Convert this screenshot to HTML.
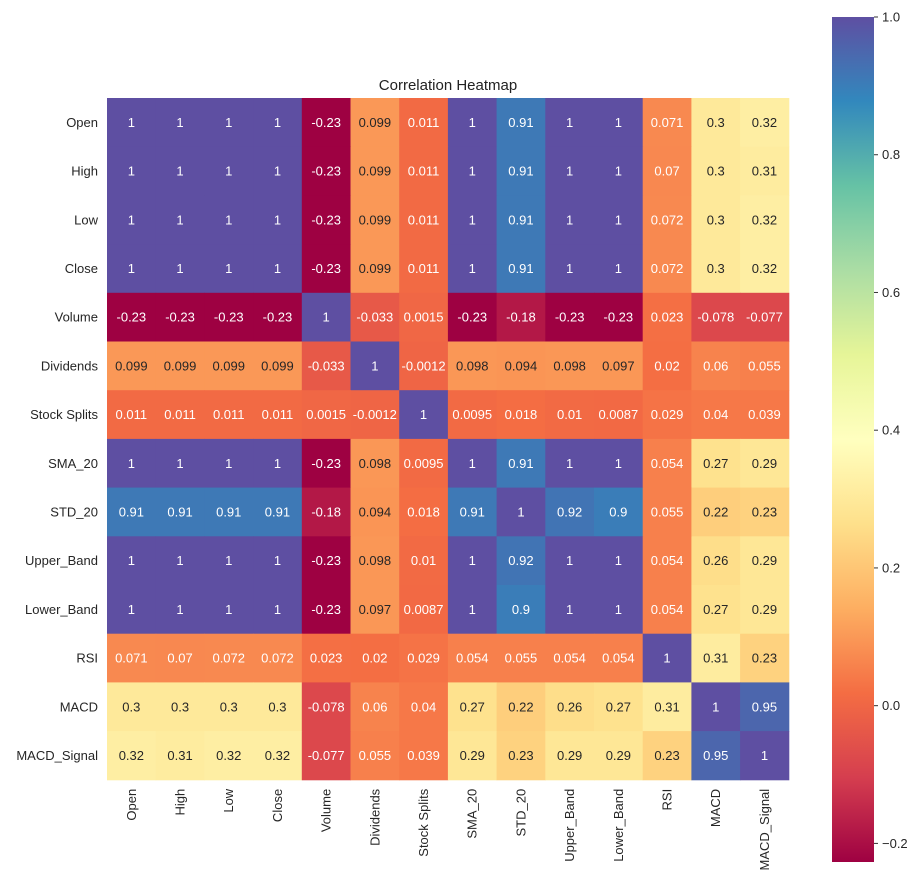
<!DOCTYPE html>
<html><head><meta charset="utf-8"><style>
body{margin:0;background:#fff;}
svg text{font-family:"Liberation Sans",Arial,sans-serif;}
</style></head><body>
<svg id="chart" width="921" height="887" xmlns="http://www.w3.org/2000/svg">
<defs><linearGradient id="cbgrad" x1="0" y1="1" x2="0" y2="0"></linearGradient></defs>
<text x="448" y="90" font-size="15" text-anchor="middle" fill="#222">Correlation Heatmap</text>
<g id="cells"></g><g id="labels"></g><g id="cbar"></g>
</svg>
<script>
const labels = ["Open","High","Low","Close","Volume","Dividends","Stock Splits","SMA_20","STD_20","Upper_Band","Lower_Band","RSI","MACD","MACD_Signal"];
const row0 = ["1","1","1","1","-0.23","0.099","0.011","1","0.91","1","1","0.071","0.3","0.32"];
const row1 = ["1","1","1","1","-0.23","0.099","0.011","1","0.91","1","1","0.07","0.3","0.31"];
const row2 = ["1","1","1","1","-0.23","0.099","0.011","1","0.91","1","1","0.072","0.3","0.32"];
const row3 = ["1","1","1","1","-0.23","0.099","0.011","1","0.91","1","1","0.072","0.3","0.32"];
const row4 = ["-0.23","-0.23","-0.23","-0.23","1","-0.033","0.0015","-0.23","-0.18","-0.23","-0.23","0.023","-0.078","-0.077"];
const row5 = ["0.099","0.099","0.099","0.099","-0.033","1","-0.0012","0.098","0.094","0.098","0.097","0.02","0.06","0.055"];
const row6 = ["0.011","0.011","0.011","0.011","0.0015","-0.0012","1","0.0095","0.018","0.01","0.0087","0.029","0.04","0.039"];
const row7 = ["1","1","1","1","-0.23","0.098","0.0095","1","0.91","1","1","0.054","0.27","0.29"];
const row8 = ["0.91","0.91","0.91","0.91","-0.18","0.094","0.018","0.91","1","0.92","0.9","0.055","0.22","0.23"];
const row9 = ["1","1","1","1","-0.23","0.098","0.01","1","0.92","1","1","0.054","0.26","0.29"];
const row10 = ["1","1","1","1","-0.23","0.097","0.0087","1","0.9","1","1","0.054","0.27","0.29"];
const row11 = ["0.071","0.07","0.072","0.072","0.023","0.02","0.029","0.054","0.055","0.054","0.054","1","0.31","0.23"];
const row12 = ["0.3","0.3","0.3","0.3","-0.078","0.06","0.04","0.27","0.22","0.26","0.27","0.31","1","0.95"];
const row13 = ["0.32","0.31","0.32","0.32","-0.077","0.055","0.039","0.29","0.23","0.29","0.29","0.23","0.95","1"];
const matrix = [row0,row1,row2,row3,row4,row5,row6,row7,row8,row9,row10,row11,row12,row13];
const cbTicks = [1.0,0.8,0.6,0.4,0.2,0.0,-0.2];
const vmin = -0.227, vmax = 1.0;

const NS="http://www.w3.org/2000/svg";
const X0=107,Y0=98,CW=48.7;
const xPos=i=>X0+i*CW, yPos=i=>Y0+i*CW;
const spec=["#9e0142","#d53e4f","#f46d43","#fdae61","#fee08b","#ffffbf","#e6f598","#abdda4","#66c2a5","#3288bd","#5e4fa2"].map(h=>[parseInt(h.slice(1,3),16),parseInt(h.slice(3,5),16),parseInt(h.slice(5,7),16)]);
function cmap(t){t=Math.max(0,Math.min(1,t));const p=t*10,i=Math.min(9,Math.floor(p)),f=p-i;return spec[i].map((c,k)=>Math.round(c+(spec[i+1][k]-c)*f));}
function norm(v){return (v-vmin)/(vmax-vmin);}
function lum(c){const l=c.map(x=>{x/=255;return x<=0.03928?x/12.92:Math.pow((x+0.055)/1.055,2.4)});return 0.2126*l[0]+0.7152*l[1]+0.0722*l[2];}
function mk(tag,attrs,parent,txt){const e=document.createElementNS(NS,tag);for(const k in attrs)e.setAttribute(k,attrs[k]);if(txt!==undefined)e.textContent=txt;parent.appendChild(e);return e;}
const cells=document.getElementById('cells'),lab=document.getElementById('labels'),cb=document.getElementById('cbar');
matrix.forEach((row,r)=>row.forEach((s,c)=>{
  const v=parseFloat(s),col=cmap(norm(v));
  const rect=mk('rect',{x:xPos(c),y:yPos(r),width:CW+0.5,height:CW+0.5,fill:`rgb(${col})`},cells);
  
  
  const t=mk('text',{x:xPos(c)+CW/2,y:yPos(r)+CW/2+4.5,'font-size':13,'text-anchor':'middle',fill:lum(col)>0.408?'#262626':'#ffffff'},cells,s);
  
  
}));
labels.forEach((l,i)=>{
  const t=mk('text',{x:X0-9,y:yPos(i)+CW/2+4.5,'font-size':13,'text-anchor':'end',fill:'#262626'},lab,l);
  
  
  const cx=xPos(i)+CW/2+4.5,cy=Y0+14*CW+9;
  const u=mk('text',{x:cx,y:cy,'font-size':13,'text-anchor':'end',fill:'#262626',transform:`rotate(-90 ${cx} ${cy})`},lab,l);
  
  
});
const CB_X=832,CB_W=42,CB_T=17,CB_B=862;
const cbY=v=>CB_B-(v-vmin)/(vmax-vmin)*(CB_B-CB_T);
const g=document.getElementById('cbgrad');
for(let i=0;i<=20;i++){const c=cmap(i/20);mk('stop',{offset:(i/20),'stop-color':`rgb(${c})`},g);}
const bar=mk('rect',{x:CB_X,y:CB_T,width:CB_W,height:CB_B-CB_T,fill:'url(#cbgrad)'},cb);


cbTicks.forEach(v=>{
  const y=cbY(v);
  mk('line',{x1:CB_X+CB_W,x2:CB_X+CB_W+4,y1:y,y2:y,stroke:'#333'},cb);
  const t=mk('text',{x:CB_X+CB_W+8,y:y+4.5,'font-size':13,fill:'#262626'},cb,v.toFixed(1).replace('-','\u2212'));
  
  
});
</script>
</body></html>
